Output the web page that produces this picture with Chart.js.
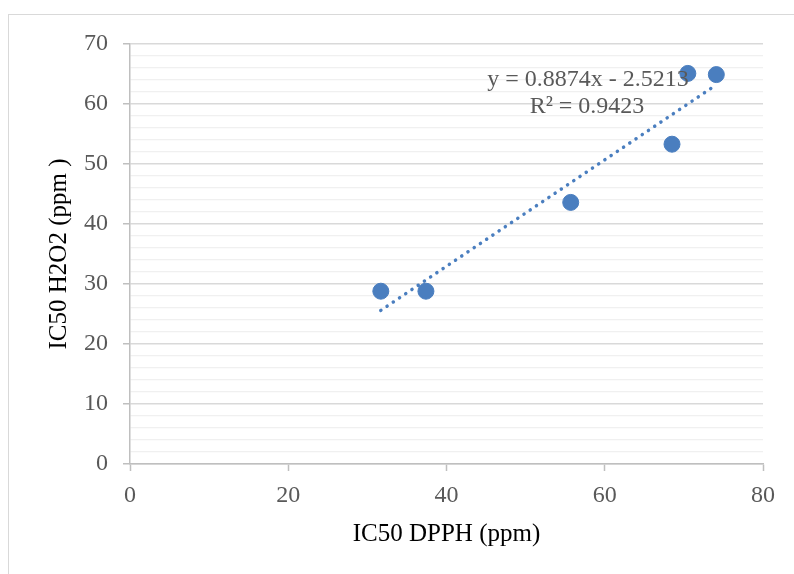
<!DOCTYPE html>
<html>
<head>
    <title>IC50 DPPH vs IC50 H2O2</title>
    <script src="https://cdn.jsdelivr.net/npm/chart.js@4.4.1/dist/chart.umd.min.js"></script>
    <style>
        html, body {
            margin: 0;
            padding: 0;
            background: #ffffff;
            overflow: hidden;
        }
        .frame {
            position: absolute;
            left: 8px;
            top: 14px;
            width: 900px;
            height: 700px;
            border: 1.5px solid #d9d9d9;
        }
        .chart-container {
            position: absolute;
            left: 0;
            top: 0;
            width: 794px;
            height: 574px;
        }
    </style>
</head>
<body>
    <div class="frame"></div>
    <div class="chart-container">
        <canvas id="scatterChart" width="794" height="574"></canvas>
    </div>

    <script>
        // values
        const dpph = [31.7, 37.4, 55.7, 68.5, 70.5, 74.1];
        const h2o2 = [28.8, 28.8, 43.6, 53.3, 65.1, 64.9];
        // linear trendline ends (y = 0.8874x - 2.5213)
        const trendX = [31.7, 74.1];
        const trendY = [25.6, 63.2];
        const equationText = 'y = 0.8874x - 2.5213';
        const r2Text = 'R\u00B2 = 0.9423';

        const blue = '#4a7ebf';
        const gray = '#595959';
        const font = "'Liberation Serif', 'Times New Roman', serif";

        const points = dpph.map((x, i) => ({ x: x, y: h2o2[i] }));
        const trend = trendX.map((x, i) => ({ x: x, y: trendY[i] }));

        const trendLabel = {
            id: 'trendLabel',
            afterDatasetsDraw(chart) {
                const ctx = chart.ctx;
                const area = chart.chartArea;
                ctx.save();
                ctx.fillStyle = gray;
                ctx.font = '24px ' + font;
                ctx.textAlign = 'center';
                ctx.textBaseline = 'middle';
                ctx.fillText(equationText, area.left + 458, area.top + 36);
                ctx.fillText(r2Text, area.left + 457, area.top + 63);
                ctx.restore();
            }
        };

        const isMajor = (c) => c.tick && c.tick.value % 10 === 0;

        new Chart(document.getElementById('scatterChart'), {
            type: 'scatter',
            data: {
                datasets: [{
                    label: 'IC50',
                    data: points,
                    backgroundColor: blue,
                    borderColor: blue,
                    pointRadius: 8,
                    pointHoverRadius: 8
                }, {
                    label: 'Linear',
                    type: 'line',
                    data: trend,
                    borderColor: blue,
                    borderWidth: 3.5,
                    borderDash: [0.1, 7.4],
                    borderCapStyle: 'round',
                    pointRadius: 0,
                    fill: false
                }]
            },
            options: {
                responsive: false,
                animation: false,
                layout: {
                    padding: { top: 44, right: 31, left: 0, bottom: 0 }
                },
                plugins: {
                    legend: { display: false },
                    tooltip: { enabled: false }
                },
                scales: {
                    x: {
                        type: 'linear',
                        min: 0,
                        max: 80,
                        afterFit: (scale) => { scale.height = 110; },
                        ticks: {
                            stepSize: 20,
                            color: gray,
                            padding: 10,
                            font: { family: font, size: 24 }
                        },
                        grid: {
                            drawOnChartArea: false,
                            tickLength: 7,
                            tickColor: '#bfbfbf',
                            tickWidth: 1.5
                        },
                        border: { color: '#bfbfbf', width: 1.5 },
                        title: {
                            display: true,
                            text: 'IC50 DPPH (ppm)',
                            color: '#000000',
                            font: { family: font, size: 25 },
                            padding: { top: 0, bottom: 25 }
                        }
                    },
                    y: {
                        min: 0,
                        max: 70,
                        afterFit: (scale) => { scale.width = 130; },
                        ticks: {
                            stepSize: 2,
                            autoSkip: false,
                            color: gray,
                            padding: 15,
                            font: { family: font, size: 24 },
                            callback: (v) => (v % 10 === 0 ? v : '')
                        },
                        grid: {
                            color: (c) => (isMajor(c) ? '#d9d9d9' : '#f0f0f0'),
                            lineWidth: (c) => (isMajor(c) ? 1.5 : 1.2),
                            tickLength: 7,
                            tickColor: (c) => (isMajor(c) ? '#bfbfbf' : 'rgba(0,0,0,0)'),
                            tickWidth: 1.5
                        },
                        border: { color: '#bfbfbf', width: 1.5 },
                        title: {
                            display: true,
                            text: 'IC50 H2O2 (ppm )',
                            color: '#000000',
                            font: { family: font, size: 25 },
                            padding: { top: 44, bottom: 0 }
                        }
                    }
                }
            },
            plugins: [trendLabel]
        });
    </script>
</body>
</html>
